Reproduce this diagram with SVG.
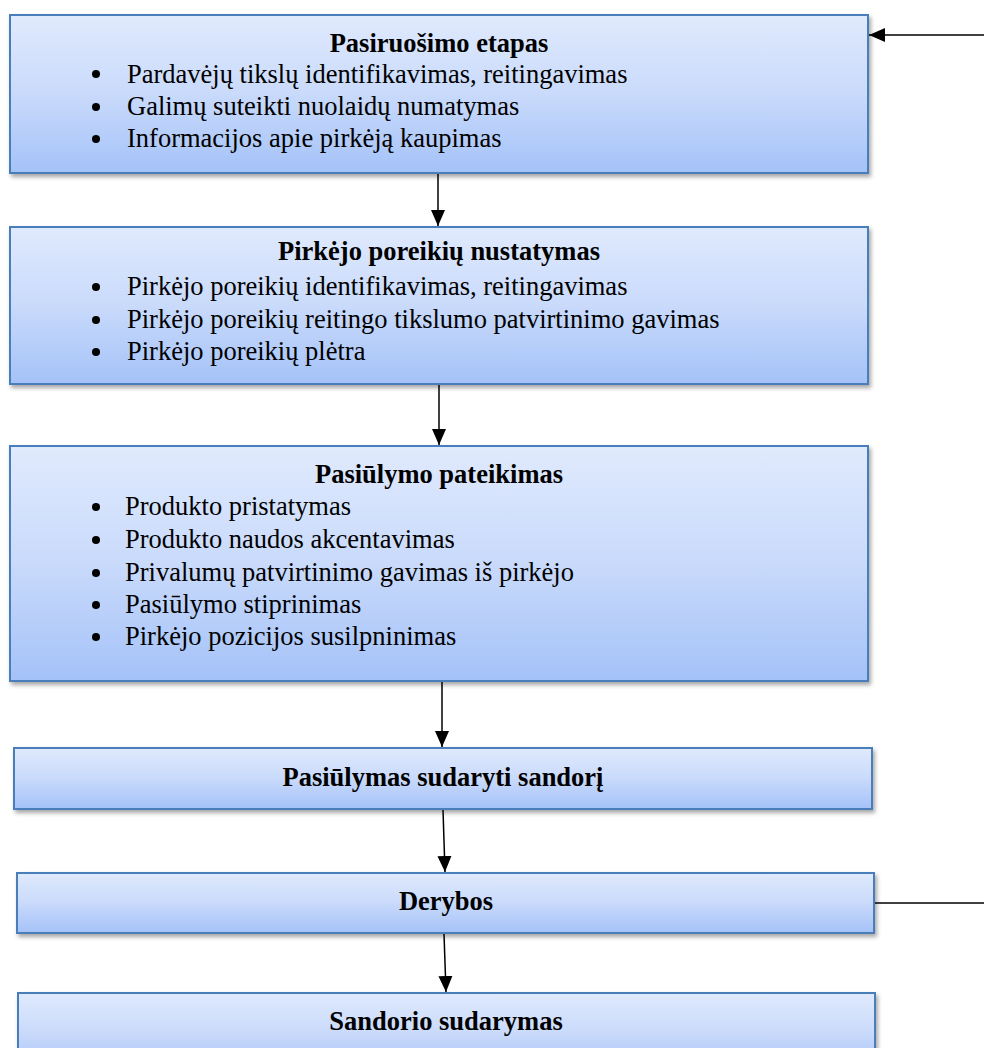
<svg xmlns="http://www.w3.org/2000/svg" width="984" height="1048" viewBox="0 0 984 1048">
  <defs>
    <linearGradient id="boxFill" x1="0" y1="0" x2="0" y2="1">
      <stop offset="0" stop-color="#e0eafd"/>
      <stop offset="0.5" stop-color="#c9dafb"/>
      <stop offset="1" stop-color="#a4c2f8"/>
    </linearGradient>
    <filter id="shadow" x="-5%" y="-20%" width="110%" height="150%">
      <feDropShadow dx="2" dy="3" stdDeviation="2" flood-color="#000" flood-opacity="0.35"/>
    </filter>
    <marker id="arrow" viewBox="0 0 16 16" refX="16" refY="8" markerWidth="16" markerHeight="16" markerUnits="userSpaceOnUse" orient="auto">
      <path d="M0,1 L16,8 L0,15 Z" fill="#000"/>
    </marker>
  </defs>
  <style>
    .box { fill: url(#boxFill); stroke: #4a7ebb; stroke-width: 2; filter: url(#shadow); }
    .title { font-family: "Liberation Serif", "Times New Roman", serif; font-size: 26.5px; font-weight: bold; fill: #000; text-anchor: middle; }
    .item { font-family: "Liberation Serif", "Times New Roman", serif; font-size: 26.5px; fill: #000; }
    .dot { fill: #000; }
    .conn { stroke: #000; stroke-width: 1.5; fill: none; }
  </style>

  <rect width="984" height="1048" fill="#fff"/>

  <g id="connectors">
    <line class="conn" x1="984" y1="35" x2="869" y2="35" marker-end="url(#arrow)"/>
    <line class="conn" x1="438" y1="174" x2="438" y2="226" marker-end="url(#arrow)"/>
    <line class="conn" x1="439" y1="385" x2="439" y2="445" marker-end="url(#arrow)"/>
    <line class="conn" x1="442" y1="682" x2="442" y2="747" marker-end="url(#arrow)"/>
    <line class="conn" x1="443" y1="810" x2="445" y2="872" marker-end="url(#arrow)"/>
    <line class="conn" x1="444" y1="934" x2="446" y2="992" marker-end="url(#arrow)"/>
    <line class="conn" x1="875" y1="903" x2="984" y2="903"/>
  </g>

  <g id="node-pasiruosimo">
    <rect class="box" x="10" y="15" width="858" height="158"/>
    <text class="title" x="439" y="52">Pasiruošimo etapas</text>
    <circle class="dot" cx="96" cy="74" r="4"/>
    <text class="item" x="127" y="83">Pardavėjų tikslų identifikavimas, reitingavimas</text>
    <circle class="dot" cx="96" cy="107" r="4"/>
    <text class="item" x="127" y="115">Galimų suteikti nuolaidų numatymas</text>
    <circle class="dot" cx="96" cy="139" r="4"/>
    <text class="item" x="127" y="147">Informacijos apie pirkėją kaupimas</text>
  </g>

  <g id="node-poreikiai">
    <rect class="box" x="10" y="227" width="858" height="157"/>
    <text class="title" x="439" y="260">Pirkėjo poreikių nustatymas</text>
    <circle class="dot" cx="96" cy="287" r="4"/>
    <text class="item" x="127" y="295">Pirkėjo poreikių identifikavimas, reitingavimas</text>
    <circle class="dot" cx="96" cy="320" r="4"/>
    <text class="item" x="127" y="328">Pirkėjo poreikių reitingo tikslumo patvirtinimo gavimas</text>
    <circle class="dot" cx="96" cy="352" r="4"/>
    <text class="item" x="127" y="360">Pirkėjo poreikių plėtra</text>
  </g>

  <g id="node-pasiulymo-pateikimas">
    <rect class="box" x="10" y="446" width="858" height="235"/>
    <text class="title" x="439" y="483">Pasiūlymo pateikimas</text>
    <circle class="dot" cx="96" cy="507" r="4"/>
    <text class="item" x="125" y="515">Produkto pristatymas</text>
    <circle class="dot" cx="96" cy="540" r="4"/>
    <text class="item" x="125" y="548">Produkto naudos akcentavimas</text>
    <circle class="dot" cx="96" cy="573" r="4"/>
    <text class="item" x="125" y="581">Privalumų patvirtinimo gavimas iš pirkėjo</text>
    <circle class="dot" cx="96" cy="605" r="4"/>
    <text class="item" x="125" y="613">Pasiūlymo stiprinimas</text>
    <circle class="dot" cx="96" cy="637" r="4"/>
    <text class="item" x="125" y="645">Pirkėjo pozicijos susilpninimas</text>
  </g>

  <g id="node-pasiulymas-sudaryti">
    <rect class="box" x="14" y="748" width="858" height="61"/>
    <text class="title" x="443" y="786">Pasiūlymas sudaryti sandorį</text>
  </g>

  <g id="node-derybos">
    <rect class="box" x="17" y="873" width="857" height="60"/>
    <text class="title" x="446" y="910">Derybos</text>
  </g>

  <g id="node-sandorio-sudarymas">
    <rect class="box" x="18" y="993" width="857" height="80"/>
    <text class="title" x="446" y="1030">Sandorio sudarymas</text>
  </g>
</svg>
